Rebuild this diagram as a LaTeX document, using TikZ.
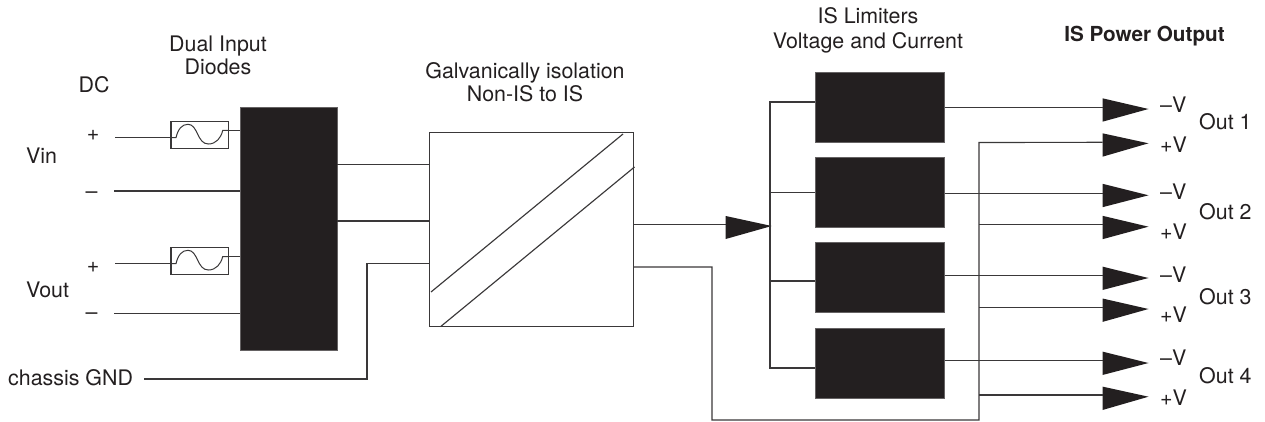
\documentclass[tikz,border=0pt]{standalone}
\usepackage{fontspec}
\setmainfont{TeX Gyre Heros}
\definecolor{ink}{HTML}{231F20}
\definecolor{wire}{HTML}{3A3839}
\tikzset{
  x=1pt,y=-1pt,
  wirel/.style={draw=wire,line width=1.15pt,line join=miter},
  blk/.style={fill=ink,draw=ink!70,line width=.5pt,inner sep=0pt,minimum width=#1},
  fusebox/.style={draw=wire,line width=1.1pt,fill=white,inner sep=0pt,minimum width=57.5pt,minimum height=26.5pt},
  lab/.style={inner sep=0pt,font=\fontsize{21.4}{23}\selectfont,text=ink,anchor=base},
  labl/.style={lab,anchor=base west},
  boldlab/.style={lab,font=\fontsize{20.7}{23}\selectfont\bfseries}
}
\newcommand{\outarrow}[3]{% name, tip y, base centre y
  \coordinate (#1b) at (1102.5,#3);
  \coordinate (#1t) at (1148.5,#2);
  \fill[ink] (1102.5,#3-11.7) -- (#1t) -- (1102.5,#3+11.7) -- cycle;
}
\newcommand{\fusecurve}[1]{% vertical offset
  \begin{scope}[yshift=-#1pt]
  \draw[wirel,line width=1pt] (171,137.7) -- (176,137.7)
    .. controls (178,129) and (182,124.3) .. (188,124.3)
    .. controls (198,124.3) and (197,144) .. (208.3,144)
    .. controls (216,144) and (221,138) .. (222.7,130.5) -- (228,130.5);
  \end{scope}
}
\begin{document}
\begin{tikzpicture}
\useasboundingbox (0,0) rectangle (1265,422);
% blocks
\node[blk=96.5pt,minimum height=243pt] (diode) at (288.5,228.5) {};
\node[fusebox] (f1) at (199.7,135) {};
\node[fusebox] (f2) at (199.7,261) {};
\node[draw=wire,line width=1.15pt,inner sep=0pt,minimum width=203.6pt,minimum height=194.4pt] (iso) at (531.5,229.5) {};
\node[blk=128.6pt,minimum height=70pt] (l1) at (880,107.7) {};
\node[blk=128.6pt,minimum height=70pt] (l2) at (880,192.7) {};
\node[blk=128.6pt,minimum height=70pt] (l3) at (880,277.7) {};
\node[blk=128.6pt,minimum height=70pt] (l4) at (880,363) {};
% free ends
\coordinate (vp1) at (115,137.7);
\coordinate (vm1) at (114,191);
\coordinate (vp2) at (115,263.7);
\coordinate (vm2) at (114,313.3);
\coordinate (gnd) at (144,379);
% fuses
\fusecurve{0}
\fusecurve{126}
% inputs
\draw[wirel] (vp1) -- (f1.west|-vp1);
\draw[wirel] (vp2) -- (f2.west|-vp2);
\draw[wirel] (f1.east|-0,130.5) -- (diode.west|-0,130.5);
\draw[wirel] (f2.east|-0,256.5) -- (diode.west|-0,256.5);
\draw[wirel] (vm1) -- (diode.west|-vm1);
\draw[wirel] (vm2) -- (diode.west|-vm2);
\draw[wirel] (diode.east|-0,164.3) -- (iso.west|-0,164.3);
\draw[wirel] (diode.east|-0,221) -- (iso.west|-0,221);
\draw[wirel] (gnd) -| (367,263.7) -- (iso.west|-0,263.7);
% isolation diagonals
\draw[wirel] (431,292) -- (623,134);
\draw[wirel] (440.5,326.7) -- (634.5,167);
% to limiters
\coordinate (busin) at (771.7,226);
\draw[wirel] (iso.east|-0,224.7) -- (726,224.7);
\fill[ink] (725.7,216) -- (busin) -- (725.7,239) -- cycle;
\draw[wirel] (l1.west|-0,102) -- (770,102) -- (770,368) -- (l4.west|-0,368);
\draw[wirel] (770,192.7) -- (l2.west|-0,192.7);
\draw[wirel] (770,281) -- (l3.west|-0,281);
% output arrows
\outarrow{a1}{109}{110}
\outarrow{a2}{143.3}{145}
\outarrow{a3}{195.3}{195.5}
\outarrow{a4}{226.7}{227.5}
\outarrow{a5}{278}{278.3}
\outarrow{a6}{309}{310.2}
\outarrow{a7}{363}{363.3}
\outarrow{a8}{396.7}{398.3}
% limiter outputs
\draw[wirel] (l1.east|-0,107.3) -- (a1b|-0,107.3);
\draw[wirel] (l2.east|-0,193.3) -- (a3b|-0,193.3);
\draw[wirel] (l3.east|-0,275.3) -- (a5b|-0,275.3);
\draw[wirel] (l4.east|-0,360.7) -- (a7b|-0,360.7);
% return bus
\draw[wirel] (iso.east|-0,267) -- (712,267) -- (712,420) -- (979,420) -- (979,142.5) -- (a2b|-0,142.3);
\draw[wirel] (979,224.7) -- (a4b|-0,224.7);
\draw[wirel] (979,307.7) -- (a6b|-0,307.7);
\draw[wirel] (979,395) -- (a8b|-0,395);
% labels
\node[lab] (t1) at (218,52) {Dual Input};
\node[lab] (t2) at (218,75) {Diodes};
\node[lab] (t3) at (94,92.7) {DC};
\node[lab] (p1) at (93,141) {+};
\node[lab] (m1) at (91.5,198.5) {–};
\node[labl] (vin) at (26,164) {Vin};
\node[lab] (p2) at (93,272.7) {+};
\node[lab] (m2) at (91.5,319.2) {–};
\node[labl] (vout) at (26,297.7) {Vout};
\node[labl] (cg) at (8,385) {chassis GND};
\node[lab] (t4) at (525,79) {Galvanically isolation};
\node[lab] (t5) at (525,102) {Non-IS to IS};
\node[lab] (t6) at (868,24) {IS Limiters};
\node[lab] (t7) at (868,48.3) {Voltage and Current};
\node[boldlab] (t8) at (1144.5,41.7) {IS Power Output};
\node[labl] (v1) at (1160,112.5) {–V};
\node[labl] (v2) at (1160,152.5) {+V};
\node[labl] (v3) at (1160,199) {–V};
\node[labl] (v4) at (1160,239) {+V};
\node[labl] (v5) at (1160,282.5) {–V};
\node[labl] (v6) at (1160,322.5) {+V};
\node[labl] (v7) at (1160,365.5) {–V};
\node[labl] (v8) at (1160,405.5) {+V};
\node[labl] (o1) at (1199,129.5) {Out 1};
\node[labl] (o2) at (1199,219) {Out 2};
\node[labl] (o3) at (1199,304.5) {Out 3};
\node[labl] (o4) at (1199,383.5) {Out 4};
\end{tikzpicture}
\end{document}
